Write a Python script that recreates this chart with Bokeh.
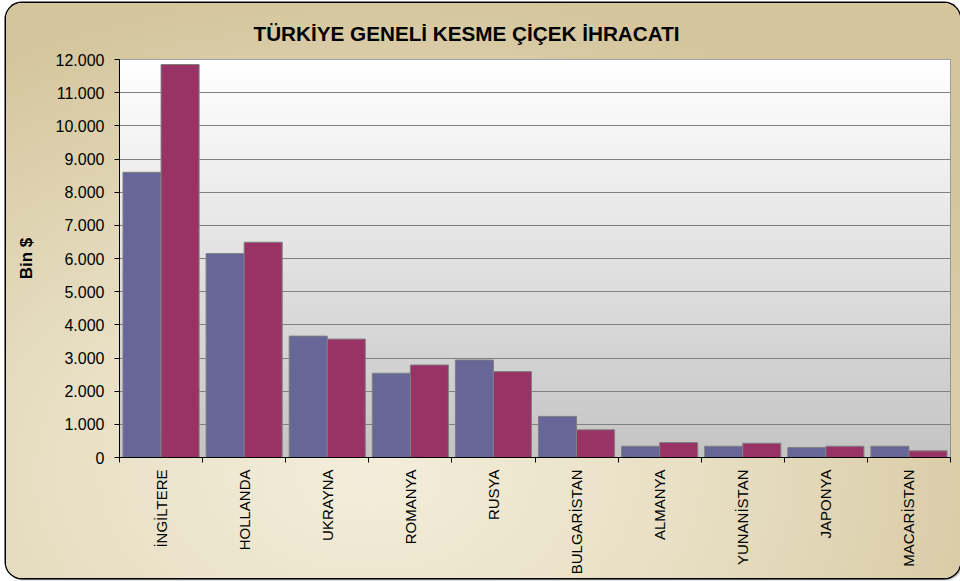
import math
import numpy as np
from bokeh.plotting import figure
from bokeh.models import (ColumnDataSource, FactorRange, Range1d, LinearAxis,
                          CategoricalAxis, FixedTicker)
from bokeh.transform import dodge
from bokeh.embed import file_html
from bokeh.resources import INLINE

# ---------------- data ----------------
countries = ["İNGİLTERE", "HOLLANDA", "UKRAYNA", "ROMANYA", "RUSYA",
             "BULGARİSTAN", "ALMANYA", "YUNANİSTAN", "JAPONYA", "MACARİSTAN"]
series1 = [8600, 6150, 3660, 2540, 2940, 1240, 340, 340, 300, 340]
series2 = [11850, 6490, 3570, 2790, 2590, 835, 450, 430, 340, 200]
y_ticks = [0, 1000, 2000, 3000, 4000, 5000, 6000, 7000, 8000, 9000, 10000, 11000, 12000]
y_tick_labels = ["0", "1.000", "2.000", "3.000", "4.000", "5.000", "6.000",
                 "7.000", "8.000", "9.000", "10.000", "11.000", "12.000"]
title_text = "TÜRKİYE GENELİ KESME ÇİÇEK İHRACATI"
y_label = "Bin $"

FONT = "Liberation Sans"
COL1 = "#666699"
COL2 = "#993366"

source = ColumnDataSource(dict(countries=countries, s1=series1, s2=series2))

p = figure(x_range=FactorRange(*countries, range_padding=0),
           y_range=Range1d(y_ticks[0], y_ticks[-1]),
           width=954, height=575,
           output_backend="svg", toolbar_location=None,
           x_axis_location=None,
           min_border_left=113, min_border_right=10,
           min_border_top=56, min_border_bottom=121)
p.margin = (3, 0, 0, 6)

p.styles = {
    "border-radius": "16px",
    "background": "radial-gradient(ellipse 75% 85% at 38% 82%, #f3eedb 0%, #e8dfc4 45%, #d4c59c 100%)",
    "box-shadow": "0 0 0 1.5px #000000, 2px 2px 2px rgba(0,0,0,0.35)",
}
p.border_fill_color = None
p.background_fill_color = "white"
p.outline_line_color = "#808080"
p.outline_line_width = 1

# plot-area vertical gradient (white -> grey)
n = 256
img = np.empty((n, 1), dtype=np.uint32)
view = img.view(dtype=np.uint8).reshape((n, 1, 4))
for i in range(n):
    t = i / (n - 1)
    v = int(round(196 + (255 - 196) * t))
    view[i, 0, :] = [v, v, v, 255]
p.image_rgba(image=[img], x=0, y=y_ticks[0], dw=len(countries),
             dh=y_ticks[-1] - y_ticks[0], level="image")

# title
p.title.text = title_text
p.title.align = "left"
p.title.offset = 134
p.title.text_font = FONT
p.title.text_font_size = "20.7px"
p.title.text_font_style = "bold"
p.title.text_color = "black"
p.title.standoff = 29

# y axis
p.yaxis.ticker = FixedTicker(ticks=y_ticks)
p.yaxis.major_label_overrides = {t: l for t, l in zip(y_ticks, y_tick_labels)}
p.yaxis.major_label_text_font = FONT
p.yaxis.major_label_text_font_size = "16px"
p.yaxis.major_label_text_color = "black"
p.yaxis.major_label_standoff = 10
p.yaxis.axis_line_color = "black"
p.yaxis.major_tick_line_color = "black"
p.yaxis.major_tick_out = 5
p.yaxis.major_tick_in = 0
p.yaxis.minor_tick_line_color = None
p.yaxis.axis_label = y_label
p.yaxis.axis_label_text_font = FONT
p.yaxis.axis_label_text_font_size = "17px"
p.yaxis.axis_label_text_font_style = "bold"
p.yaxis.axis_label_text_color = "black"
p.yaxis.axis_label_standoff = 17

p.ygrid.ticker = FixedTicker(ticks=y_ticks)
p.ygrid.grid_line_color = "#808080"
p.ygrid.grid_line_width = 1
p.xgrid.visible = False

# bottom axis: tick marks at category boundaries
boundary_ticks = list(range(len(countries) + 1))
tick_axis = LinearAxis(ticker=FixedTicker(ticks=boundary_ticks),
                       major_label_overrides={t: "" for t in boundary_ticks},
                       major_label_text_font_size="1px",
                       major_label_standoff=0,
                       major_tick_out=5, major_tick_in=0,
                       major_tick_line_color="black",
                       minor_tick_line_color=None,
                       axis_line_color="black")
p.add_layout(tick_axis, "below")

label_axis = CategoricalAxis(major_tick_line_color=None,
                             axis_line_color=None,
                             major_label_orientation=math.pi / 2,
                             major_label_standoff=1,
                             major_label_text_font=FONT,
                             major_label_text_font_size="15px",
                             major_label_text_color="black")
p.add_layout(label_axis, "below")

# bars
p.vbar(x=dodge("countries", -0.229, range=p.x_range), top="s1", width=0.458,
       source=source, fill_color=COL1, line_color="#808080", line_width=1)
p.vbar(x=dodge("countries", 0.229, range=p.x_range), top="s2", width=0.458,
       source=source, fill_color=COL2, line_color="#808080", line_width=1)

open("out.html", "w").write(file_html(p, INLINE))
